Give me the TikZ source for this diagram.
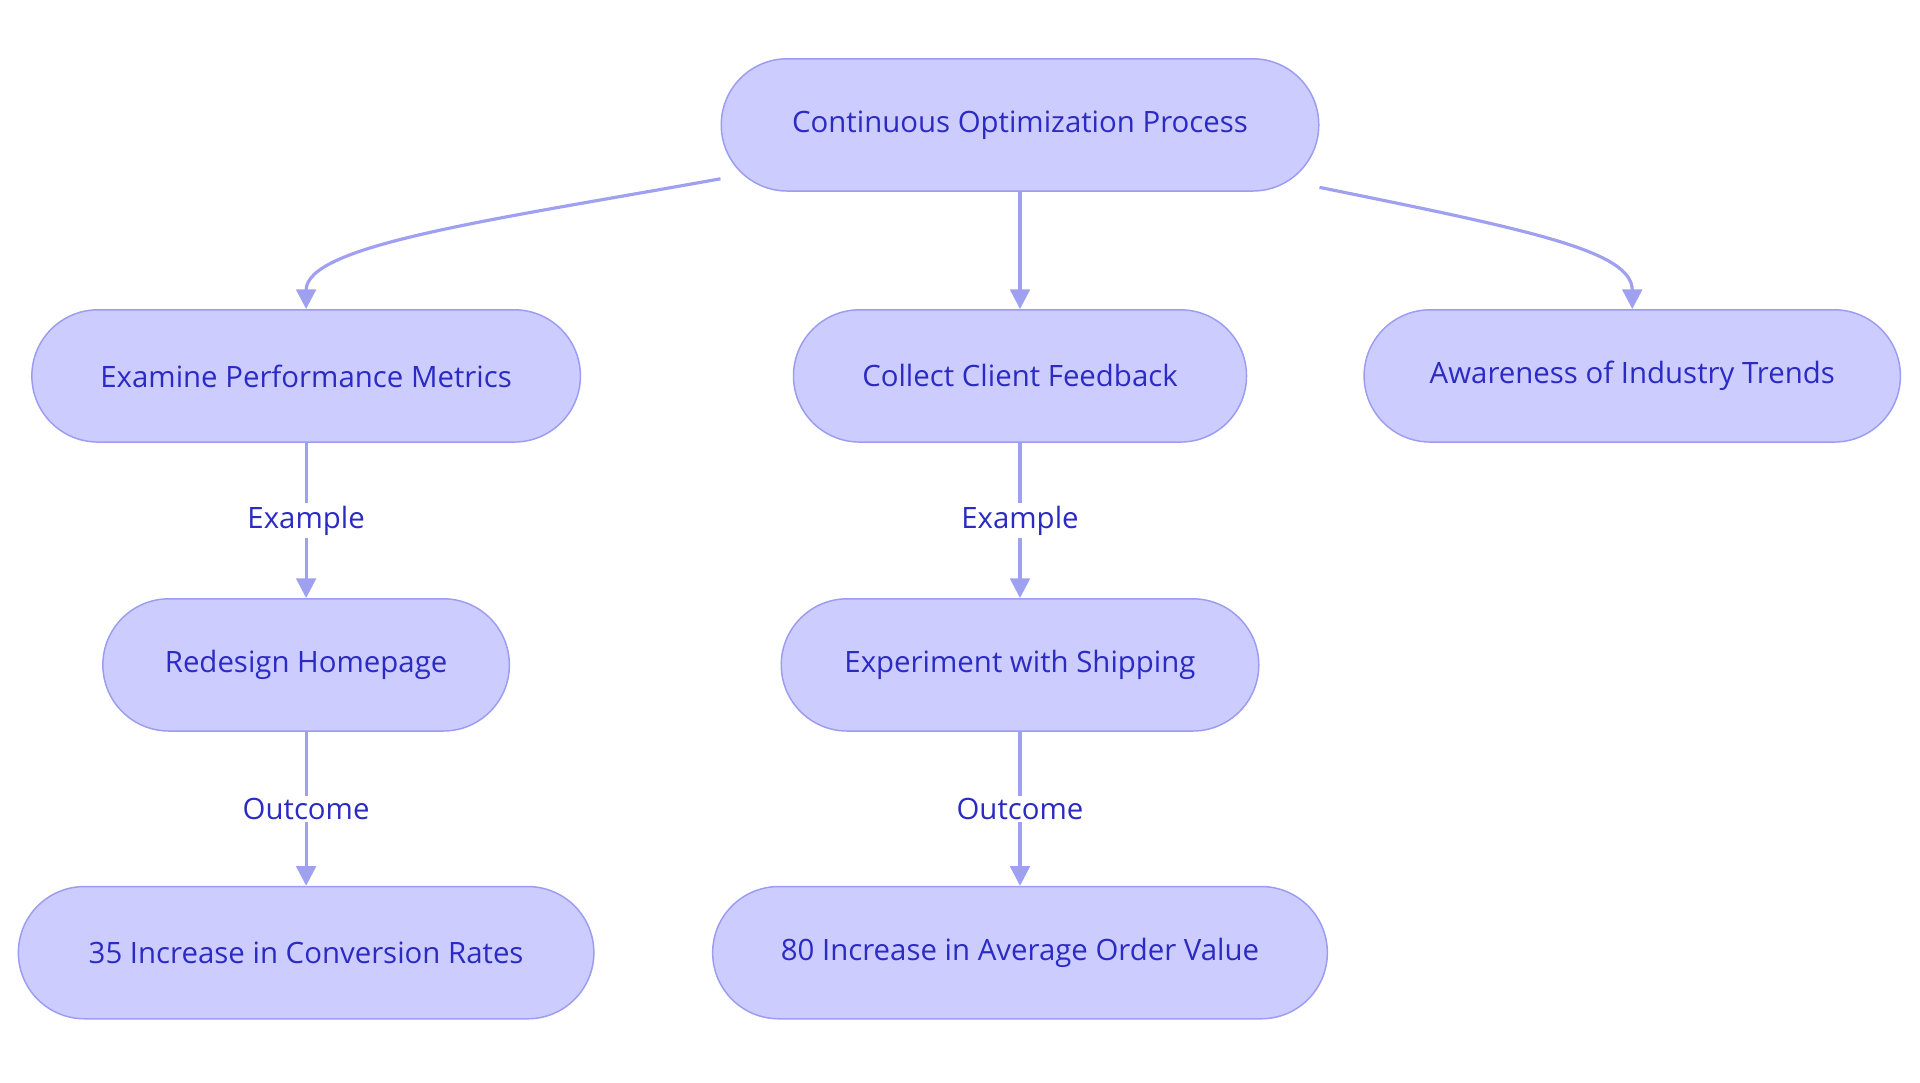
\documentclass[tikz,border=0pt]{standalone}
\usepackage{fontspec}
\setmainfont{Open Sans}
\usetikzlibrary{arrows.meta}
\definecolor{boxfill}{HTML}{CCCCFF}
\definecolor{boxline}{HTML}{9C9CF0}
\definecolor{boxtext}{HTML}{2B2BC4}
\definecolor{linkcol}{HTML}{A0A0F0}
\tikzset{
  stage/.style={draw=boxline, fill=boxfill, text=boxtext, rounded corners=27pt,
    minimum height=54pt, line width=0.6pt, font=\fontsize{12}{14}\selectfont},
  link/.style={draw=linkcol, line width=1.3pt, -{Triangle[length=8pt,width=8pt]}},
  tag/.style={fill=white, text=boxtext, font=\fontsize{12}{14}\selectfont, inner sep=1pt}
}
\begin{document}
\begin{tikzpicture}[x=0.5pt, y=-0.5pt]
  \useasboundingbox (0,0) rectangle (1568,884);

  % Define nodes
  \node[stage, minimum width=244pt] (cop) at (833,102) {Continuous Optimization Process};
  \node[stage, minimum width=224pt] (epm) at (250,307) {Examine Performance Metrics};
  \node[stage, minimum width=185pt] (ccf) at (833,307) {Collect Client Feedback};
  \node[stage, minimum width=219pt] (ait) at (1333,307) {Awareness of Industry Trends};
  \node[stage, minimum width=166pt] (rhp) at (250,543) {Redesign Homepage};
  \node[stage, minimum width=195pt] (ews) at (833,543) {Experiment with Shipping};
  \node[stage, minimum width=235pt] (icr) at (250,778) {35 Increase in Conversion Rates};
  \node[stage, minimum width=251pt] (iao) at (833,778) {80 Increase in Average Order Value};

  % Connect the nodes
  \draw[link] (cop.west |- 0,146) .. controls (400,180) and (250,200) .. (epm.north);
  \draw[link] (cop) -- (ccf);
  \draw[link] (cop.east |- 0,153) .. controls (1250,188) and (1333,205) .. (ait.north);
  \draw[link] (epm) -- node[tag] {Example} (rhp);
  \draw[link] (ccf) -- node[tag] {Example} (ews);
  \draw[link] (rhp) -- node[tag] {Outcome} (icr);
  \draw[link] (ews) -- node[tag] {Outcome} (iao);

\end{tikzpicture}
\end{document}
